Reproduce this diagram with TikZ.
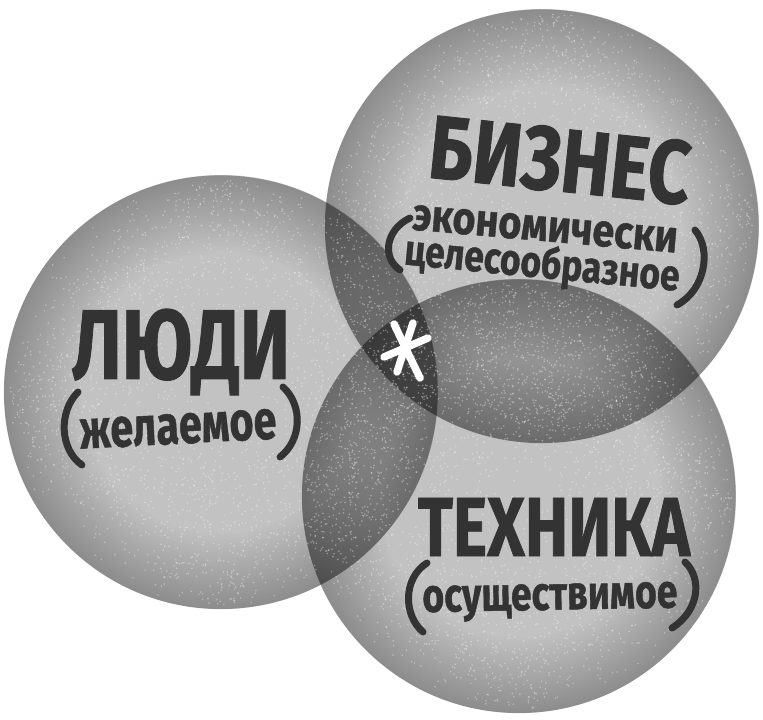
\documentclass[tikz,border=0pt]{standalone}
\usepackage{fontspec}
\newfontfamily\hand{Fira Sans}[BoldFeatures={FakeBold=1}]
\usetikzlibrary{fadings}
\definecolor{ink}{HTML}{333333}
\pgfdeclareradialshading{rimshade}{\pgfpointorigin}{color(0bp)=(pgftransparent!100); color(16bp)=(pgftransparent!100); color(25bp)=(pgftransparent!0); color(50bp)=(pgftransparent!0)}
\pgfdeclarefading{rim}{\pgfuseshading{rimshade}}
\tikzset{
  disc/.style={fill=black, fill opacity=0.24},
  discrim/.style={fill=black, path fading=rim, fill opacity=0.28},
  speck/.style={fill=white, fill opacity=0.35},
  lbl/.style={text=ink, inner sep=0pt, font=\hand\bfseries},
  paren/.style={draw=ink, line width=7pt, line cap=round},
  star/.style={draw=white, line width=7.5pt, line cap=round}
}
\begin{document}
\begin{tikzpicture}[x=1pt,y=-1pt]
\fill[white] (0,0) rectangle (763,720);
\useasboundingbox (0,0) rectangle (763,720);
% circles
\foreach \cx/\cy in {221/392, 542/226, 519/496}{
  \fill[disc] (\cx,\cy) circle (217pt);
  \fill[discrim] (\cx,\cy) circle (217pt);
}
% speckle texture
\pgfmathsetseed{7}
\foreach \cx/\cy in {221/392, 542/226, 519/496}{
  \foreach \k in {1,...,6}{
    \fill[speck] \foreach \i in {1,...,400}{ (\cx,\cy) ++({rnd*360}:{sqrt(rnd)*213}) circle (0.9pt) };
  }
}
% labels
\node[lbl] (people) at (181,352) {\resizebox{218pt}{70pt}{ЛЮДИ}};
\node[lbl, rotate=3] (peoplesub) at (178,429) {\resizebox{197pt}{30pt}{желаемое}};
\draw[paren] (78,392) .. controls (58,412) and (60,450) .. (82,465);
\draw[paren] (283,387) .. controls (303,405) and (302,440) .. (280,457);

\node[lbl, rotate=-6] (biz) at (560,160) {\resizebox{262pt}{64pt}{БИЗНЕС}};
\node[lbl, rotate=-5] (bizsub1) at (545,229) {\resizebox{266pt}{25pt}{экономически}};
\node[lbl, rotate=-5.5] (bizsub2) at (542,266) {\resizebox{276pt}{33pt}{целесообразное}};
\draw[paren] (410,218) .. controls (385,230) and (382,258) .. (400,270);
\draw[paren] (695,230) .. controls (712,250) and (705,290) .. (677,305);

\node[lbl] (tech) at (554,527) {\resizebox{272pt}{58pt}{ТЕХНИКА}};
\node[lbl, rotate=1] (techsub) at (550,602) {\resizebox{255pt}{26pt}{осуществимое}};
\draw[paren] (427,563) .. controls (403,578) and (403,615) .. (423,632);
\draw[paren] (685,562) .. controls (702,578) and (700,610) .. (672,628);

% asterisk
\coordinate (ast) at (406,351);
\draw[star] (394,324) -- (420,378);
\draw[star] (413,323) -- (397,372);
\draw[star] (384,357) -- (428,338);
\end{tikzpicture}
\end{document}
